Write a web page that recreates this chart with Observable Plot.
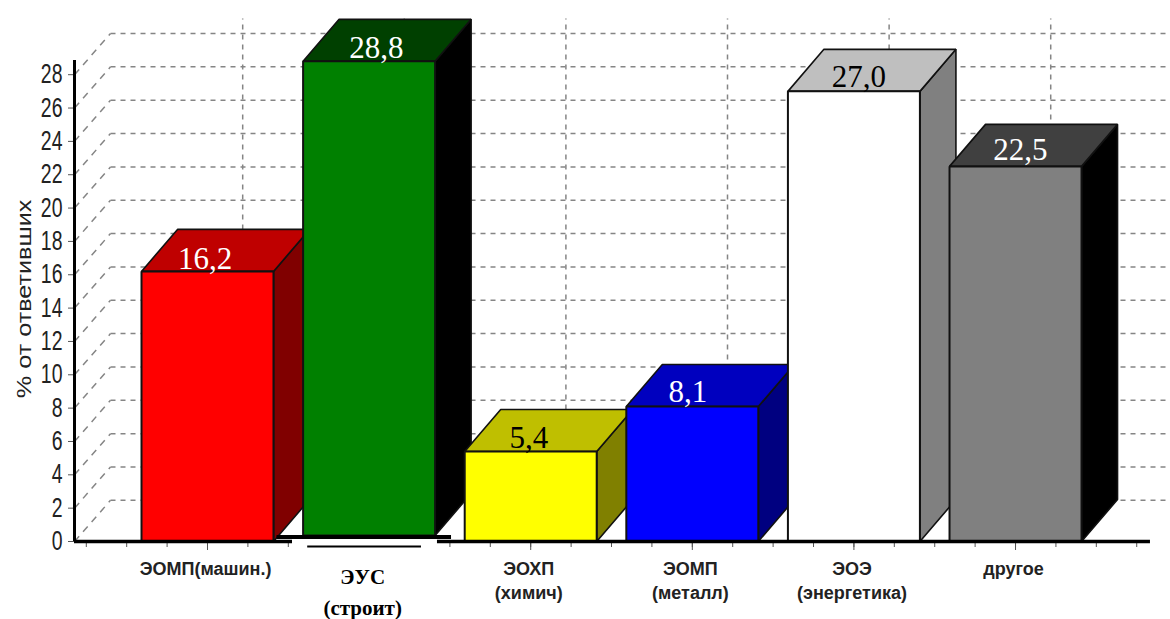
<!DOCTYPE html>
<html><head><meta charset="utf-8">
<script src="https://cdn.jsdelivr.net/npm/d3@7"></script>
<script src="https://cdn.jsdelivr.net/npm/@observablehq/plot@0.6"></script>
<style>html,body{margin:0;padding:0;background:#fff}svg{display:block}</style>
</head><body><div id="chart"></div>
<script>
const line1 = ["ЭОМП(машин.)", "ЭУС", "ЭОХП", "ЭОМП", "ЭОЭ", "другое"];
const line2 = ["", "(строит)", "(химич)", "(металл)", "(энергетика)", ""];
const values = [16.2, 28.8, 5.4, 8.1, 27.0, 22.5];
const valueLabels = ["16,2", "28,8", "5,4", "8,1", "27,0", "22,5"];
const frontColors = ["#ff0000", "#008000", "#ffff00", "#0000ff", "#ffffff", "#808080"];
const topColors = ["#bf0000", "#004000", "#bfbf00", "#0000bf", "#bfbfbf", "#404040"];
const sideColors = ["#800000", "#000000", "#808000", "#000080", "#808080", "#000000"];
const labelColors = ["#fff", "#fff", "#000", "#fff", "#000", "#fff"];
const labelShift = [-0.015, 0.045, -0.012, -0.027, 0.03, 0.03];
const labelDy = [-2, -3, -3, -4, -4, -6];
const baseLift = [0, 0.36, 0, 0, 0, 0];
const yTicks = d3.range(0, 29, 2);
const yTitle = "% от ответивших";

// depth of the 3D box, in scale units
const DX = 0.2228, DY = 2.52, HALF = 0.4084;
const XMIN = -0.823, XMAX = 5.959, YMAX = 32.45, XEND = 5.835;
const bars = values.map((v, i) => ({i, v, b: baseLift[i]}));
const dash = {stroke: "#858585", strokeWidth: 1.5, strokeDasharray: "5,5"};
const diag = {stroke: "#858585", strokeWidth: 1.5, strokeDasharray: "7,6"};

const poly = (pts, fill, stroke = "#111", sw = 1.6) => Plot.line(pts, {
  x: "0", y: "1", fill, stroke, strokeWidth: sw, curve: "linear-closed", strokeLinejoin: "miter"
});
const boxes = bars.flatMap(({i, v, b}) => {
  const l = i - HALF, r = i + HALF;
  return [
    poly([[r, b], [r + DX, b + DY], [r + DX, v + DY], [r, v]], sideColors[i]),
    poly([[l, v], [r, v], [r + DX, v + DY], [l + DX, v + DY]], topColors[i]),
    poly([[l, b], [r, b], [r, v], [l, v]], frontColors[i], "#111", 2)
  ];
});

const plot = Plot.plot({
  width: 1170, height: 619,
  marginLeft: 74, marginRight: 0, marginTop: 0, marginBottom: 78,
  style: {background: "#fff", overflow: "visible"},
  x: {type: "linear", domain: [XMIN, XMAX], axis: null},
  y: {type: "linear", domain: [0, YMAX], axis: null},
  marks: [
    // back wall grid
    Plot.link(yTicks, {x1: XMIN, x2: XMIN + DX, y1: d => d, y2: d => d + DY - 0.05, ...diag}),
    Plot.link(yTicks, {x1: XMIN + DX, x2: XMAX, y1: d => d + DY - 0.05, y2: d => d + DY - 0.05, ...dash}),
    Plot.link(d3.range(0, 6), {x1: d => d + DX - 0.005, x2: d => d + DX - 0.005, y1: DY, y2: 31.37, ...dash}),
    // axes
    Plot.axisY({ticks: yTicks, anchor: "left", tickSize: 6, tickPadding: 6, stroke: "#555",
      fontSize: 27, fontFamily: "Liberation Sans", fill: "#222", label: null, className: "ytick"}),
    Plot.axisX({ticks: d3.range(-0.75, 5.8, 0.25), tickSize: 6, stroke: "#555", tickFormat: () => "", label: null}),
    Plot.axisX({ticks: d3.range(0, 6), tickSize: 9, stroke: "#555", tickFormat: () => "", label: null}),
    // bars
    ...boxes,
    Plot.ruleX([XMIN], {y1: 0, y2: 28.85, stroke: "#000", strokeWidth: 3}),
    Plot.ruleY([0], {x1: XMIN, x2: XEND, stroke: "#000", strokeWidth: 3.5}),
    // the gap under the second bar
    Plot.rect([0], {x1: 0.526, x2: 1.423, y1: -0.6, y2: 0.14, fill: "#fff"}),
    Plot.ruleY([0.27], {x1: 0.43, x2: 1.51, stroke: "#000", strokeWidth: 4}),
    Plot.ruleY([-0.3], {x1: 0.62, x2: 1.324, stroke: "#000", strokeWidth: 2}),
    // value labels
    Plot.text(bars, {x: d => d.i + labelShift[d.i], y: "v", text: d => valueLabels[d.i],
      fill: d => labelColors[d.i], fontFamily: "Liberation Serif", fontSize: 31,
      lineAnchor: "bottom", className: "vlab"}),
    // category labels
    Plot.text(bars.filter(d => d.i !== 1), {x: d => d.i - 0.012, y: 0, text: d => line1[d.i], dy: 33,
      fontFamily: "Liberation Sans", fontWeight: "bold", fontSize: 18, fill: "#222", lineAnchor: "bottom", className: "cat"}),
    Plot.text(bars.filter(d => d.i !== 1 && line2[d.i]), {x: d => d.i - 0.012, y: 0, text: d => line2[d.i], dy: 57,
      fontFamily: "Liberation Sans", fontWeight: "bold", fontSize: 18, fill: "#222", lineAnchor: "bottom", className: "cat"}),
    Plot.text([1], {x: 0.96, y: 0, text: d => line1[d], dy: 42, fontFamily: "Liberation Serif", fontWeight: "bold",
      fontSize: 21, fill: "#000", lineAnchor: "bottom"}),
    Plot.text([1], {x: 0.96, y: 0, text: d => line2[d], dy: 73, fontFamily: "Liberation Serif", fontWeight: "bold",
      fontSize: 21, fill: "#000", lineAnchor: "bottom"}),
    // y title
    Plot.text([yTitle], {x: -1.13, y: 14.55, text: d => d, rotate: -90, fontFamily: "Liberation Sans",
      fontSize: 20, fill: "#222", className: "ytitle"})
  ]
});
document.getElementById("chart").append(plot);

// tall, narrow axis lettering and per-bar nudges of the value labels
const scaleX = (sel, k) => sel.attr("transform", function () {
  return (this.getAttribute("transform") || "") + ` scale(${k},1)`;
});
scaleX(d3.select(plot).selectAll(".ytick text"), 0.72);
scaleX(d3.select(plot).selectAll(".ytitle text"), 1.26);
d3.select(plot).selectAll(".vlab text").attr("dy", (d, i) => labelDy[i]);
</script></body></html>
